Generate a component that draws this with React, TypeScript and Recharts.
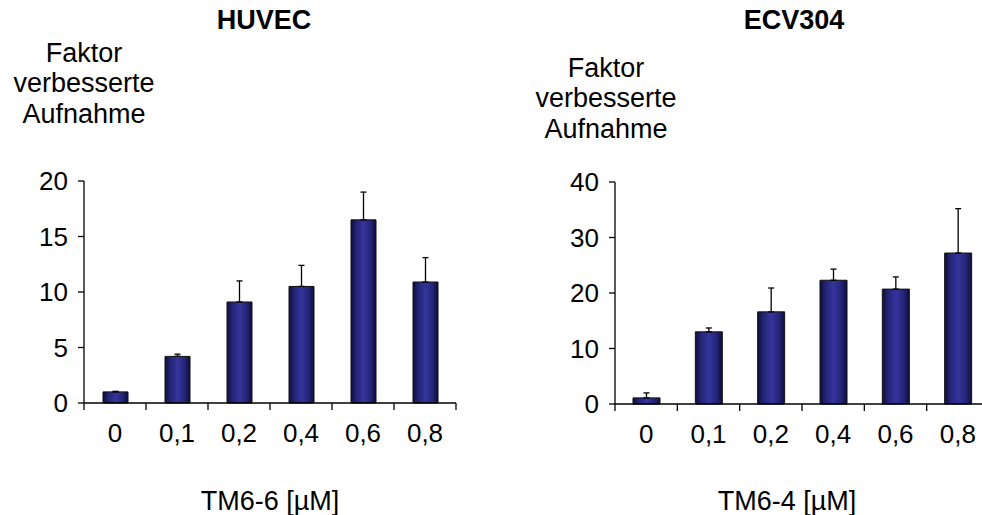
import React from 'react';
import { BarChart, Bar, XAxis, YAxis, ErrorBar } from 'recharts';

const categories = ['0', '0,1', '0,2', '0,4', '0,6', '0,8'];

const huvecMeans = [1.0, 4.2, 9.1, 10.5, 16.5, 10.9];
const huvecErr = [0.05, 0.2, 1.9, 1.9, 2.5, 2.2];
const huvecTicks = [0, 5, 10, 15, 20];

const ecvMeans = [1.1, 13.0, 16.6, 22.3, 20.7, 27.2];
const ecvErr = [0.9, 0.7, 4.3, 2.0, 2.2, 8.0];
const ecvTicks = [0, 10, 20, 30, 40];

const FONT = '"Liberation Sans", Arial, sans-serif';

const buildRows = (means: number[], errs: number[]) =>
  categories.map((c, i) => ({ name: c, value: means[i], err: [0, errs[i]] }));

const makeTick = (band: number, count: number) => (props: any) => {
  const { x, y, payload, index } = props;
  const left = x - band / 2;
  return (
    <g>
      <line x1={left} y1={y} x2={left} y2={y + 7} stroke="#000" strokeWidth={1.3} />
      {index === count - 1 && (
        <line x1={x + band / 2} y1={y} x2={x + band / 2} y2={y + 7} stroke="#000" strokeWidth={1.3} />
      )}
      <text x={x} y={y + 39} textAnchor="middle" fontSize={26} fontFamily={FONT} fill="#000">
        {payload.value}
      </text>
    </g>
  );
};

interface PanelProps {
  id: string;
  left: number;
  top: number;
  rightMargin: number;
  means: number[];
  errs: number[];
  ticks: number[];
  barSize: number;
}

const Panel: React.FC<PanelProps> = ({ id, left, top, rightMargin, means, errs, ticks, barSize }) => {
  const width = 470;
  const height = 515;
  const bottom = 515 - top - 222;
  const band = (width - rightMargin - 84) / categories.length;
  const data = buildRows(means, errs);
  return (
    <div style={{ position: 'absolute', left, top: 0 }}>
      <BarChart
        width={width}
        height={height}
        data={data}
        margin={{ top, right: rightMargin, bottom: bottom - 30, left: 0 }}
        barCategoryGap={0}
      >
        <defs>
          <linearGradient id={id} x1="0" y1="0" x2="1" y2="0">
            <stop offset="0%" stopColor="#0e0e3c" />
            <stop offset="22%" stopColor="#252578" />
            <stop offset="50%" stopColor="#34349c" />
            <stop offset="78%" stopColor="#252578" />
            <stop offset="100%" stopColor="#0e0e3c" />
          </linearGradient>
        </defs>
        <XAxis
          dataKey="name"
          height={30}
          axisLine={{ stroke: '#000', strokeWidth: 1.3 }}
          tickLine={false}
          tickSize={0}
          tickMargin={0}
          interval={0}
          tick={makeTick(band, categories.length)}
        />
        <YAxis
          width={84}
          domain={[ticks[0], ticks[ticks.length - 1]]}
          ticks={ticks}
          interval={0}
          axisLine={{ stroke: '#000', strokeWidth: 1.3 }}
          tickLine={{ stroke: '#000', strokeWidth: 1.3 }}
          tickSize={6}
          tickMargin={10}
          tick={{ fontSize: 26, fill: '#000', fontFamily: FONT }}
        />
        <Bar
          dataKey="value"
          fill={`url(#${id})`}
          stroke="#111"
          strokeWidth={1}
          barSize={barSize}
          isAnimationActive={false}
        >
          <ErrorBar dataKey="err" width={3} stroke="#000" strokeWidth={1.3} isAnimationActive={false} />
        </Bar>
      </BarChart>
    </div>
  );
};

export default function App() {
  return (
    <div
      style={{
        position: 'fixed',
        left: 0,
        top: 0,
        width: 982,
        height: 515,
        overflow: 'hidden',
        background: '#fff',
      }}
    >
      <Panel id="gradL" left={0} top={181} rightMargin={14} means={huvecMeans} errs={huvecErr} ticks={huvecTicks} barSize={25} />
      <Panel id="gradR" left={531} top={182} rightMargin={12} means={ecvMeans} errs={ecvErr} ticks={ecvTicks} barSize={27} />
      <svg
        width={982}
        height={515}
        style={{ position: 'absolute', left: 0, top: 0, pointerEvents: 'none' }}
        fontFamily={FONT}
        fill="#000"
      >
        <text x={264} y={29} textAnchor="middle" fontSize={27} fontWeight="bold">HUVEC</text>
        <text x={794} y={29} textAnchor="middle" fontSize={27} fontWeight="bold">ECV304</text>

        <text x={84} y={62} textAnchor="middle" fontSize={27}>Faktor</text>
        <text x={84} y={92} textAnchor="middle" fontSize={27}>verbesserte</text>
        <text x={84} y={123} textAnchor="middle" fontSize={27}>Aufnahme</text>

        <text x={606} y={77} textAnchor="middle" fontSize={27}>Faktor</text>
        <text x={606} y={107} textAnchor="middle" fontSize={27}>verbesserte</text>
        <text x={606} y={138} textAnchor="middle" fontSize={27}>Aufnahme</text>

        <text x={270} y={510} textAnchor="middle" fontSize={27}>TM6-6 [µM]</text>
        <text x={787} y={510} textAnchor="middle" fontSize={27}>TM6-4 [µM]</text>
      </svg>
    </div>
  );
}
